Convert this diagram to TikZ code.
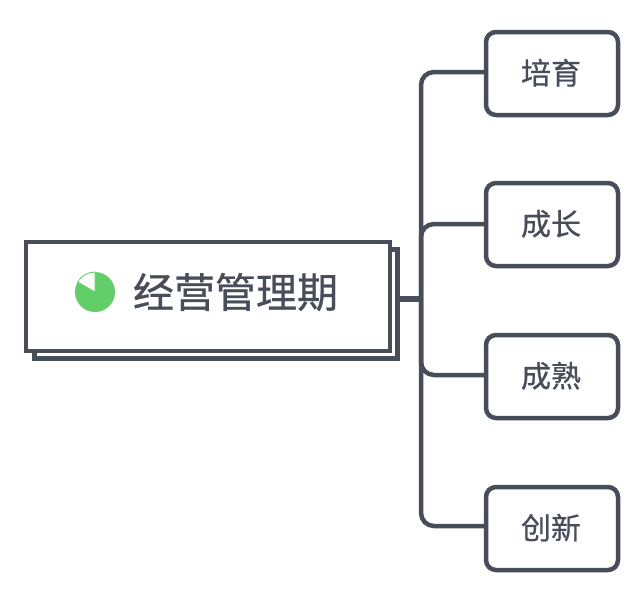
\documentclass[tikz,border=0pt]{standalone}
\usepackage{fontspec}
\newfontfamily\cjk[FakeBold=0.7]{Noto Sans CJK SC}
\newcommand{\topictext}[1]{\hspace{-2pt}\raisebox{4pt}{#1}}
\definecolor{ink}{HTML}{474E59}
\definecolor{pie}{HTML}{62CE68}
\tikzset{
  x=1pt,y=-1pt,
  mainbox/.style={draw=ink,line width=4.5pt,fill=white,sharp corners,minimum width=364pt,minimum height=109pt,inner sep=0pt},
  topicbox/.style={draw=ink,line width=4.5pt,fill=white,rounded corners=10pt,minimum width=132pt,minimum height=83pt,inner sep=0pt,text=ink,font=\cjk\fontsize{30}{30}\selectfont,text depth=0pt},
  link/.style={draw=ink,line width=4.5pt,rounded corners=13pt},
  title/.style={text=ink,inner sep=0pt,font=\cjk\fontsize{41}{41}\selectfont}
}
\begin{document}
\begin{tikzpicture}
\useasboundingbox (0,0) rectangle (640,590);
\fill[white] (0,0) rectangle (640,590);
\node[mainbox,minimum width=363pt] (back) at (216,304) {};
\node[mainbox] (main) at (208,296.5) {};
\node[title,anchor=center] (label) at (235.5,292) {经营管理期};
\fill[pie] (95,292) circle (20);
\filldraw[fill=white,draw=pie,line width=0.8pt] (95,292) -- (95,272) arc[start angle=90,end angle=150,radius=20pt] -- cycle;
\node[topicbox] (a) at (552,73.5) {\topictext{培育}};
\node[topicbox] (b) at (552,224.5) {\topictext{成长}};
\node[topicbox] (c) at (552,376.5) {\topictext{成熟}};
\node[topicbox] (d) at (552,528.5) {\topictext{创新}};
\coordinate (hub) at (421,299);
\draw[link,line width=6.5pt] (back.east |- hub) -- (hub);
\draw[link] (hub) |- ([yshift=1.5pt]a.west);
\draw[link] (hub) |- ([yshift=0.5pt]b.west);
\draw[link] (hub) |- ([yshift=1.5pt]c.west);
\draw[link] (hub) |- ([yshift=2.5pt]d.west);
\end{tikzpicture}
\end{document}
